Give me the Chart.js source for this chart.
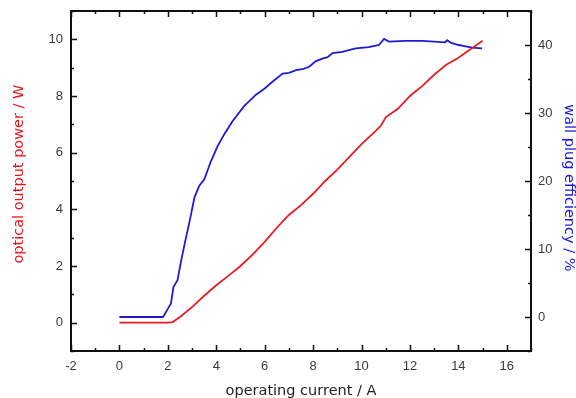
<!DOCTYPE html>
<html>
<head>
<meta charset="utf-8">
<script src="https://cdn.jsdelivr.net/npm/chart.js@4.4.1/dist/chart.umd.min.js"></script>
<style>
    html, body { margin: 0; padding: 0; background: #fff; }
    #wrap { width: 576px; height: 398px; position: relative; }
</style>
</head>
<body>
<div id="wrap"><canvas id="chart-lines"></canvas></div>
<script>
// operating current (A) vs optical output power (W)
const powerCurrent = [0, 0.5, 1, 1.5, 2, 2.2, 2.5, 3, 3.5, 4, 4.5, 5, 5.5, 6, 6.5, 7, 7.5, 8, 8.5, 9, 9.5, 10, 10.5, 10.8, 11, 11.5, 12, 12.5, 13, 13.5, 14, 14.5, 15];
const powerValues = [0, 0, 0, 0, 0, 0.02, 0.2, 0.55, 0.95, 1.32, 1.65, 2.0, 2.4, 2.85, 3.35, 3.8, 4.15, 4.55, 5.0, 5.4, 5.85, 6.3, 6.7, 6.95, 7.25, 7.55, 8.0, 8.35, 8.75, 9.1, 9.35, 9.65, 9.95];

// operating current (A) vs wall plug efficiency (%)
const effCurrent = [0, 0.5, 1, 1.5, 1.8, 2.0, 2.13, 2.23, 2.4, 2.55, 2.72, 2.9, 3.1, 3.3, 3.5, 3.78, 4.05, 4.35, 4.67, 5.15, 5.64, 6.0, 6.32, 6.74, 7.0, 7.3, 7.6, 7.84, 8.1, 8.38, 8.6, 8.8, 9.2, 9.76, 10.3, 10.72, 10.93, 11.13, 11.8, 12.5, 13.0, 13.45, 13.54, 13.7, 14.02, 14.3, 14.57, 14.98];
const effValues = [0, 0, 0, 0, 0, 1.2, 2.0, 4.4, 5.4, 8.3, 11.2, 14.1, 17.6, 19.3, 20.2, 22.9, 25.1, 27.0, 28.8, 31.0, 32.7, 33.6, 34.6, 35.8, 35.9, 36.3, 36.5, 36.8, 37.6, 38.0, 38.2, 38.8, 39.0, 39.5, 39.7, 40.0, 40.9, 40.5, 40.6, 40.6, 40.5, 40.4, 40.7, 40.3, 40.0, 39.8, 39.6, 39.5];

const xTicks = [-2, 0, 2, 4, 6, 8, 10, 12, 14, 16];
const powerTicks = [0, 2, 4, 6, 8, 10];
const effTicks = [0, 10, 20, 30, 40];

function toPoints(xs, ys) {
    return xs.map((x, i) => ({ x: x, y: ys[i] }));
}

function fixedTicks(list) {
    return scale => { scale.ticks = list.map(v => ({ value: v })); };
}

// fixed axis box size, no extra label overflow padding
function boxSize(w, h) {
    return s => {
        if (w) s.width = w;
        if (h) s.height = h;
        s.paddingTop = s.paddingBottom = s.paddingLeft = s.paddingRight = 0;
    };
}

// frame plus inward major/minor tick marks on all four sides
const frameTicks = {
    id: 'frameTicks',
    afterDraw(chart) {
        const ctx = chart.ctx;
        const a = chart.chartArea;
        const sx = chart.scales.x, sy = chart.scales.y, sy1 = chart.scales.y1;
        ctx.save();
        ctx.strokeStyle = '#111';
        ctx.lineWidth = 1.5;
        ctx.beginPath();
        for (let v = -2; v <= 17; v++) {
            const px = Math.round(sx.getPixelForValue(v)) + 0.5;
            const len = xTicks.includes(v) ? 6 : 3;
            ctx.moveTo(px, a.bottom); ctx.lineTo(px, a.bottom - len);
            ctx.moveTo(px, a.top); ctx.lineTo(px, a.top + len);
        }
        for (let v = -1; v <= 11; v++) {
            const py = Math.round(sy.getPixelForValue(v)) + 0.5;
            const len = powerTicks.includes(v) ? 6 : 3;
            ctx.moveTo(a.left, py); ctx.lineTo(a.left + len, py);
        }
        for (let v = -5; v <= 45; v += 5) {
            const py = Math.round(sy1.getPixelForValue(v)) + 0.5;
            const len = effTicks.includes(v) ? 6 : 3;
            ctx.moveTo(a.right, py); ctx.lineTo(a.right - len, py);
        }
        ctx.stroke();
        ctx.lineWidth = 2;
        ctx.strokeRect(a.left, a.top, a.right - a.left, a.bottom - a.top);
        ctx.restore();
    }
};

function drawChart() {
    const ctx = document.getElementById('chart-lines').getContext('2d');
    const tickFont = { size: 13, family: 'Liberation Sans, Arial, sans-serif' };
    const titleFont = { size: 14.5, family: 'DejaVu Sans, Verdana, sans-serif', lineHeight: 1 };

    new Chart(ctx, {
        type: 'scatter',
        data: {
            datasets: [{
                label: 'optical output power',
                data: toPoints(powerCurrent, powerValues),
                showLine: true,
                borderColor: 'rgb(228,28,36)',
                borderWidth: 1.8,
                pointRadius: 0,
                tension: 0,
                yAxisID: 'y'
            }, {
                label: 'wall plug efficiency',
                data: toPoints(effCurrent, effValues),
                showLine: true,
                borderColor: 'rgb(28,28,212)',
                borderWidth: 1.8,
                pointRadius: 0,
                tension: 0,
                yAxisID: 'y1'
            }]
        },
        options: {
            responsive: true,
            maintainAspectRatio: false,
            animation: false,
            layout: { padding: { top: 11, left: 0, right: 0, bottom: 0 } },
            plugins: {
                legend: { display: false },
                tooltip: { enabled: false }
            },
            scales: {
                x: {
                    type: 'linear',
                    position: 'bottom',
                    min: -2,
                    max: 17,
                    afterBuildTicks: fixedTicks(xTicks),
                    afterFit: boxSize(0, 47),
                    grid: { display: false, drawTicks: false },
                    border: { display: false },
                    ticks: {
                        padding: 8,
                        color: '#3a3a3a',
                        font: tickFont
                    },
                    title: {
                        display: true,
                        text: 'operating current / A',
                        color: '#222',
                        font: titleFont,
                        padding: { top: 0, bottom: 0 }
                    }
                },
                y: {
                    type: 'linear',
                    position: 'left',
                    min: -1,
                    max: 11,
                    afterBuildTicks: fixedTicks(powerTicks),
                    afterFit: boxSize(71, 0),
                    grid: { display: false, drawTicks: false },
                    border: { display: false },
                    ticks: {
                        padding: 8,
                        color: '#3a3a3a',
                        font: tickFont
                    },
                    title: {
                        display: true,
                        // leading spaces nudge the title upward like the original
                        text: '   optical output power / W',
                        color: 'rgb(236,20,28)',
                        font: titleFont,
                        padding: { top: 12, bottom: 0 }
                    }
                },
                y1: {
                    type: 'linear',
                    position: 'right',
                    min: -5,
                    max: 45,
                    afterBuildTicks: fixedTicks(effTicks),
                    afterFit: boxSize(45, 0),
                    grid: { display: false, drawTicks: false },
                    border: { display: false },
                    ticks: {
                        padding: 7,
                        color: '#3a3a3a',
                        font: tickFont
                    },
                    title: {
                        display: true,
                        text: '   wall plug efficiency / %',
                        color: 'rgb(26,26,220)',
                        font: titleFont,
                        padding: { top: 0, bottom: 0 }
                    }
                }
            }
        },
        plugins: [frameTicks]
    });
}

window.onload = drawChart;
</script>
</body>
</html>
